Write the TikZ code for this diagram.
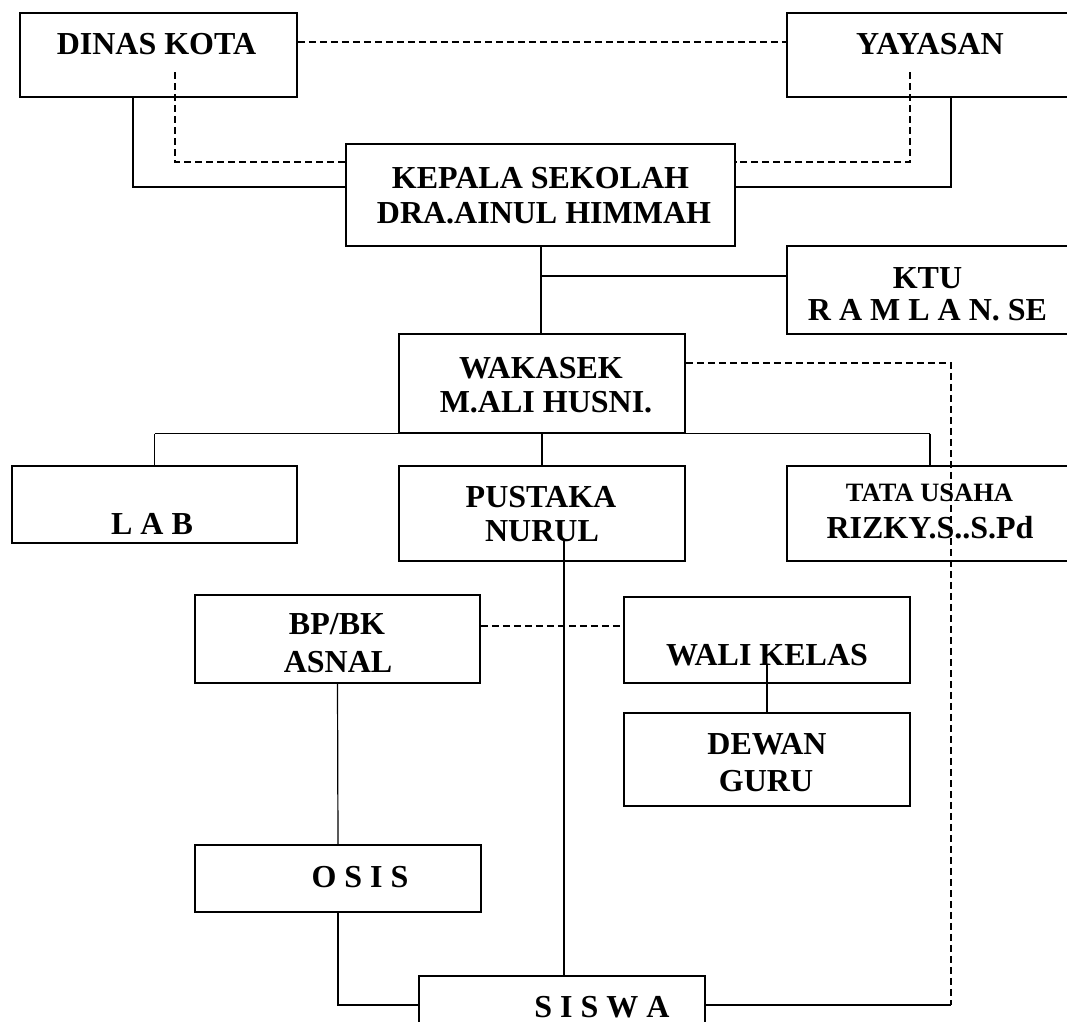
\documentclass[tikz,border=0pt]{standalone}
\usepackage{fontspec}
\setmainfont{Liberation Serif}
\tikzset{>=stealth}
\tikzset{
  box/.style={draw, line width=1.6pt, inner sep=0pt, minimum width=286pt},
  lbl/.style={font=\bfseries\fontsize{32}{38}\selectfont, anchor=base, inner sep=0pt},
  lblsmall/.style={font=\bfseries\fontsize{26.5}{31}\selectfont, anchor=base, inner sep=0pt},
  link/.style={line width=1.2pt},
  dashline/.style={line width=1.4pt, dash pattern=on 7pt off 4pt}
}

\begin{document}
\begin{tikzpicture}[x=1pt,y=-1pt]
\useasboundingbox (0,0) rectangle (1067,1021);
\clip (0,0) rectangle (1067,1021);
% boxes
\node[box, minimum width=277pt, minimum height=84pt] (dinas) at (158.5,55) {};
\node[box, minimum height=84pt] (yayasan) at (930,55) {};
\node[box, minimum width=389pt, minimum height=102pt] (kepala) at (540.5,195) {};
\node[box, minimum height=88pt] (ktu) at (930,290) {};
\node[box, minimum height=99pt] (wakasek) at (542,383.5) {};
\node[box, minimum width=285pt, minimum height=77pt] (lab) at (154.5,504.5) {};
\node[box, minimum height=95pt] (pustaka) at (542,513.5) {};
\node[box, minimum height=95pt] (tata) at (930,513.5) {};
\node[box, minimum width=285pt, minimum height=88pt] (bpbk) at (337.5,639) {};
\node[box, minimum height=86pt] (wali) at (767,640) {};
\node[box, minimum height=93pt] (dewan) at (767,759.5) {};
\node[box, minimum height=67pt] (osis) at (338,878.5) {};
\node[box, minimum height=74pt] (siswa) at (562,1013) {};
% texts
\node[lbl] (t-dinas) at (156.5,54) {DINAS KOTA};
\node[lbl] (t-yayasan) at (930,54) {YAYASAN};
\node[lbl] (t-kepala1) at (540.5,188) {KEPALA SEKOLAH};
\node[lbl] (t-kepala2) at (544,223) {DRA.AINUL HIMMAH};
\node[lbl] (t-ktu1) at (927.5,288) {KTU};
\node[lbl] (t-ktu2) at (927.5,320) {R A M L A N. SE};
\node[lbl] (t-wakasek1) at (541,378) {WAKASEK};
\node[lbl] (t-wakasek2) at (546,412) {M.ALI HUSNI.};
\node[lbl] (t-lab) at (152,534) {L A B};
\node[lbl] (t-pustaka1) at (541,507) {PUSTAKA};
\node[lbl] (t-pustaka2) at (542,541) {NURUL};
\node[lblsmall] (t-tata1) at (929.5,501) {TATA USAHA};
\node[lbl] (t-tata2) at (930,538) {RIZKY.S..S.Pd};
\node[lbl] (t-bpbk1) at (337,634) {BP/BK};
\node[lbl] (t-bpbk2) at (338,672) {ASNAL};
\node[lbl] (t-wali) at (767,665) {WALI KELAS};
\node[lbl] (t-dewan1) at (767,754) {DEWAN};
\node[lbl] (t-dewan2) at (766,791) {GURU};
\node[lbl] (t-osis) at (360,887) {O S I S};
\node[lbl] (t-siswa) at (602,1017) {S I S W A};
% top links
\draw[dashline] (dinas.east |- 0,42) -- (yayasan.west |- 0,42);
\coordinate (dk) at (175,72);
\coordinate (yk) at (910,72);
\draw[dashline] (dk) |- (kepala.west |- 0,162);
\draw[dashline] (yk) |- (kepala.east |- 0,162);
\draw[link] (dinas.south -| 133,0) |- (kepala.west |- 0,187);
\draw[link] (yayasan.south -| 951,0) |- (kepala.east |- 0,187);
% kepala to wakasek and ktu
\coordinate (kb) at (541,276);
\draw[link] (kepala.south -| kb) -- (wakasek.north -| kb);
\draw[link] (kb) -- (ktu.west |- kb);
% row under wakasek
\draw[link] (lab.north |- wakasek.south) -- (tata.north |- wakasek.south);
\draw[link] (lab.north |- wakasek.south) -- (lab.north);
\draw[link] (pustaka.north |- wakasek.south) -- (pustaka.north);
\draw[link] (tata.north |- wakasek.south) -- (tata.north);
% wakasek down to siswa
\draw[dashline] (wakasek.east |- 0,363) -| (951,1005) coordinate (sw);
\draw[link] (sw) -- (siswa.east |- sw);
% pustaka to siswa
\coordinate (pn) at (564,541);
\draw[link] (pn) -- (pn |- siswa.north);
% bp/bk, wali kelas, osis
\draw[dashline] (bpbk.east |- 0,626) -- (wali.west |- 0,626);
\coordinate (wk) at (767,665);
\draw[link] (wk) -- (dewan.north);
\draw[link] (bpbk.south) -- (osis.north);
\draw[link] (osis.south) |- (siswa.west |- 0,1005);
\end{tikzpicture}
\end{document}
